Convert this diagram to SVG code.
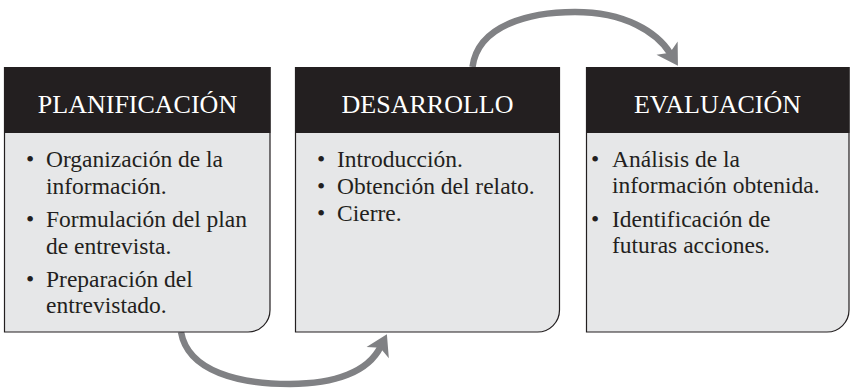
<svg xmlns="http://www.w3.org/2000/svg" width="850" height="388" viewBox="0 0 850 388">
<style>
.body{fill:#e6e7e8;stroke:#231f20;stroke-width:1.2}
.head{fill:#231f20}
.ht{font-family:"Liberation Serif","DejaVu Serif",serif;font-size:26px;fill:#ffffff;text-anchor:middle}
.bt{font-family:"Liberation Serif","DejaVu Serif",serif;font-size:23.5px;fill:#231f20}
.bl{font-family:"Liberation Serif","DejaVu Serif",serif;font-size:23.5px;fill:#231f20}
.arr{fill:none;stroke:#808184;stroke-width:6.5;marker-end:url(#ah)}
</style>
<defs>
<marker id="ah" markerUnits="userSpaceOnUse" markerWidth="24" markerHeight="26" viewBox="0 -12 20 24" refX="6" refY="0" orient="auto" overflow="visible">
<path d="M0,-11.5 L19,0 L0,11.5 L5,0 Z" fill="#808184"/>
</marker>
</defs>
<rect width="850" height="388" fill="#ffffff"/>
<g id="connectors">
<path class="arr" d="M181,332 C188,372 240,384 290,384 C335,384 368,372 380.6,346.8"/>
<path class="arr" d="M472.5,67 C478,25 530,12 575,12 C625,12 657,32 670.5,53.7"/>
</g>
<g id="planificacion">
<path class="body" d="M4.5,67.5 H270 V310 A22,22 0 0 1 248,332 H4.5 Z"/>
<rect class="head" x="4" y="67" width="266.5" height="66"/>
<text class="ht" x="137.5" y="113">PLANIFICACIÓN</text>
<text class="bl" x="26" y="167">•</text>
<text class="bt" x="46" y="167">Organización de la</text>
<text class="bt" x="46" y="193.5">información.</text>
<text class="bl" x="26" y="227">•</text>
<text class="bt" x="46" y="227">Formulación del plan</text>
<text class="bt" x="46" y="253.5">de entrevista.</text>
<text class="bl" x="26" y="287">•</text>
<text class="bt" x="46" y="287">Preparación del</text>
<text class="bt" x="46" y="313">entrevistado.</text>
</g>
<g id="desarrollo">
<path class="body" d="M295.5,67.5 H559.5 V310 A22,22 0 0 1 537.5,332 H295.5 Z"/>
<rect class="head" x="295" y="67" width="265" height="66"/>
<text class="ht" x="427.5" y="113">DESARROLLO</text>
<text class="bl" x="317" y="167">•</text>
<text class="bt" x="337" y="167">Introducción.</text>
<text class="bl" x="317" y="194">•</text>
<text class="bt" x="337" y="194">Obtención del relato.</text>
<text class="bl" x="317" y="221">•</text>
<text class="bt" x="337" y="221">Cierre.</text>
</g>
<g id="evaluacion">
<path class="body" d="M586.5,67.5 H849 V310 A22,22 0 0 1 827,332 H586.5 Z"/>
<rect class="head" x="586" y="67" width="263.5" height="66"/>
<text class="ht" x="717.5" y="113">EVALUACIÓN</text>
<text class="bl" x="591" y="167">•</text>
<text class="bt" x="612" y="167">Análisis de la</text>
<text class="bt" x="612" y="193">información obtenida.</text>
<text class="bl" x="591" y="227">•</text>
<text class="bt" x="612" y="227">Identificación de</text>
<text class="bt" x="612" y="253">futuras acciones.</text>
</g>
</svg>
